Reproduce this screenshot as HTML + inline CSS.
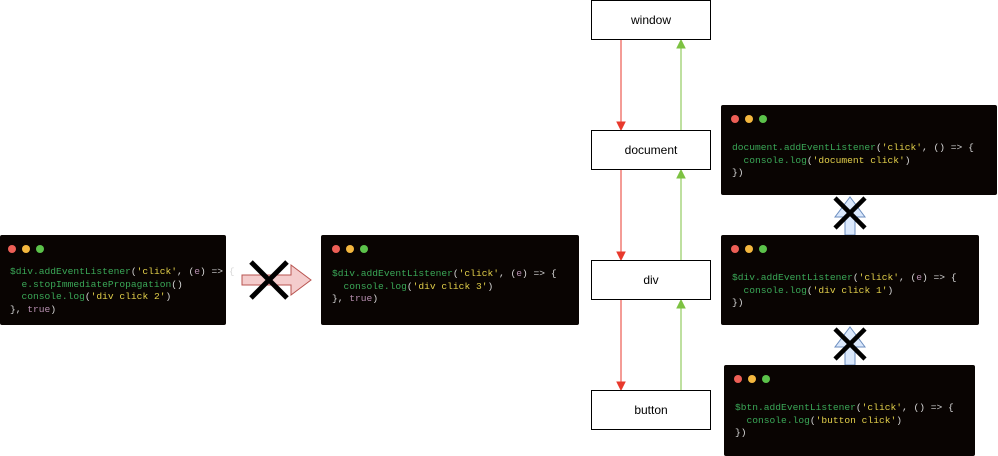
<!DOCTYPE html>
<html><head><meta charset="utf-8"><style>
body{margin:0;width:998px;height:456px;background:#fff;position:relative;overflow:hidden;font-family:"Liberation Sans",sans-serif}
.box{position:absolute;left:591px;width:118px;height:38px;border:1px solid #000;background:#fff;font-size:12px;display:flex;align-items:center;justify-content:center}
.p{position:absolute;background:#090402;border-radius:2px}
.d{position:absolute;top:10px;width:8px;height:8px;border-radius:50%}
.code{position:absolute;font-family:"Liberation Mono",monospace;font-size:9.6px;line-height:12.5px;white-space:pre;color:#d8d8d8}
.g{color:#3aa757}.y{color:#e2cf4a}.m{color:#b78fb0}
svg{position:absolute;left:0;top:0}
</style></head><body>
<svg width="998" height="456">
<g stroke="#e8392c" stroke-width="1" fill="#e8392c">
<line x1="621" y1="40" x2="621" y2="124"/><polygon points="617,122 625,122 621,130"/>
<line x1="621" y1="170" x2="621" y2="254"/><polygon points="617,252 625,252 621,260"/>
<line x1="621" y1="300" x2="621" y2="384"/><polygon points="617,382 625,382 621,390"/>
</g>
<g stroke="#7dc242" stroke-width="1" fill="#7dc242">
<line x1="681" y1="130" x2="681" y2="46"/><polygon points="677,48 685,48 681,40"/>
<line x1="681" y1="260" x2="681" y2="176"/><polygon points="677,178 685,178 681,170"/>
<line x1="681" y1="390" x2="681" y2="306"/><polygon points="677,308 685,308 681,300"/>
</g>
<polygon points="242,275 291,275 291,265 311,280 291,295 291,285 242,285" fill="#f4cccc" stroke="#b85450" stroke-width="1"/>
<g stroke="#000" stroke-width="5"><line x1="251" y1="262" x2="287" y2="298"/><line x1="287" y1="262" x2="251" y2="298"/></g>
<polygon points="845,235 845,217 835,217 850,197 865,217 855,217 855,235" fill="#dae8fc" stroke="#6c8ebf"/>
<polygon points="845,365 845,347 835,347 850,327 865,347 855,347 855,365" fill="#dae8fc" stroke="#6c8ebf"/>
<g stroke="#000" stroke-width="4.5"><line x1="835" y1="198" x2="865" y2="228"/><line x1="865" y1="198" x2="835" y2="228"/>
<line x1="835" y1="329" x2="865" y2="359"/><line x1="865" y1="329" x2="835" y2="359"/></g>
</svg>
<div class="box" style="top:0">window</div>
<div class="box" style="top:130px">document</div>
<div class="box" style="top:260px">div</div>
<div class="box" style="top:390px">button</div>

<div class="p" style="left:0;top:235px;width:226px;height:90px">
<div class="d" style="left:8px;background:#ed5f56"></div><div class="d" style="left:22px;background:#f3b73e"></div><div class="d" style="left:36px;background:#5bc24a"></div>
<div class="code" style="left:10px;top:31px"><span class="g">$div.addEventListener</span>(<span class="y">'click'</span>, (<span class="m">e</span>) =&gt; {
  <span class="g">e.stopImmediatePropagation</span>()
  <span class="g">console.log</span>(<span class="y">'div click 2'</span>)
}, <span class="m">true</span>)</div></div>

<div class="p" style="left:321px;top:235px;width:258px;height:90px">
<div class="d" style="left:11px;background:#ed5f56"></div><div class="d" style="left:25px;background:#f3b73e"></div><div class="d" style="left:39px;background:#5bc24a"></div>
<div class="code" style="left:11px;top:33px"><span class="g">$div.addEventListener</span>(<span class="y">'click'</span>, (<span class="m">e</span>) =&gt; {
  <span class="g">console.log</span>(<span class="y">'div click 3'</span>)
}, <span class="m">true</span>)</div></div>

<div class="p" style="left:721px;top:105px;width:276px;height:90px">
<div class="d" style="left:10px;background:#ed5f56"></div><div class="d" style="left:24px;background:#f3b73e"></div><div class="d" style="left:38px;background:#5bc24a"></div>
<div class="code" style="left:11px;top:37px"><span class="g">document.addEventListener</span>(<span class="y">'click'</span>, () =&gt; {
  <span class="g">console.log</span>(<span class="y">'document click'</span>)
})</div></div>

<div class="p" style="left:721px;top:235px;width:258px;height:90px">
<div class="d" style="left:10px;background:#ed5f56"></div><div class="d" style="left:24px;background:#f3b73e"></div><div class="d" style="left:38px;background:#5bc24a"></div>
<div class="code" style="left:11px;top:37px"><span class="g">$div.addEventListener</span>(<span class="y">'click'</span>, (<span class="m">e</span>) =&gt; {
  <span class="g">console.log</span>(<span class="y">'div click 1'</span>)
})</div></div>

<div class="p" style="left:724px;top:365px;width:251px;height:91px">
<div class="d" style="left:10px;background:#ed5f56"></div><div class="d" style="left:24px;background:#f3b73e"></div><div class="d" style="left:38px;background:#5bc24a"></div>
<div class="code" style="left:11px;top:37px"><span class="g">$btn.addEventListener</span>(<span class="y">'click'</span>, () =&gt; {
  <span class="g">console.log</span>(<span class="y">'button click'</span>)
})</div></div>
</body></html>
